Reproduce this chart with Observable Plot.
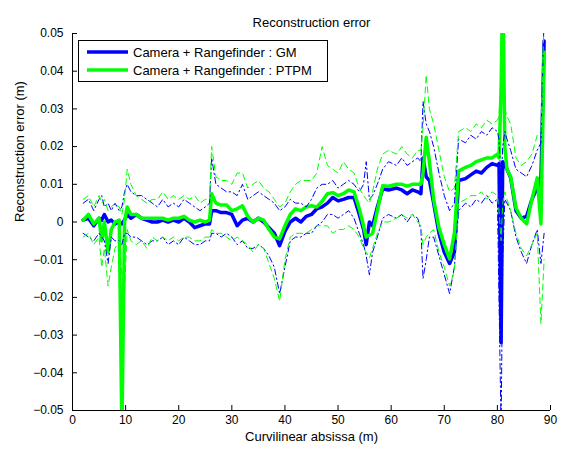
<!DOCTYPE html>
<html><head><meta charset="utf-8">
<script src="https://cdn.jsdelivr.net/npm/d3@7"></script>
<script src="https://cdn.jsdelivr.net/npm/@observablehq/plot@0.6"></script>
<style>
body{margin:0;background:#fff;}
#wrap{position:relative;width:571px;height:449px;font-family:"Liberation Sans",Arial,Helvetica,sans-serif;}
#legend{position:absolute;left:78px;top:40px;width:250px;height:42px;border:1px solid #000;background:#fff;box-sizing:border-box;}
#legend svg{display:block;font-family:"Liberation Sans",Arial,Helvetica,sans-serif;font-size:13px;}
</style></head><body><div id="wrap"></div>
<script>
const title = "Reconstruction error";
const xLabel = "Curvilinear absissa (m)";
const yLabel = "Reconstruction error (m)";
const seriesNames = ["Camera + Rangefinder : GM", "Camera + Rangefinder : PTPM"];
const xTicks = [0,10,20,30,40,50,60,70,80,90];
const yTicks = [-0.05,-0.04,-0.03,-0.02,-0.01,0,0.01,0.02,0.03,0.04,0.05];

const xs = [2,3,4,5,5.5,6,6.7,7.3,8,8.8,
9.3,9.8,10.3,11,12,13,14,15,16,17,
18,19,20,21,22,23,24,25,25.8,26.2,
27,28,29,30,31,32,33,34,35,36,
37,38,39,40,41,42,43,44,45,46,
47,48,49,50,51,52,53,54,54.8,55.3,
55.9,56.5,57.4,58.4,59.5,61,62,63,64,65,
65.6,66,66.6,67.2,68,69,70,71,71.9,72.7,
74,75,76,77,78,79,80,80.3,80.7,81,
81.4,81.8,82.5,83.5,84.5,85.5,86.5,87.5,88.2,88.8];

const gm = [0.0005,0.001,-0.001,0.001,0.0005,0.002,0,0.0005,-0.0005,0,
-0.0005,0.0005,0.002,0.001,0.002,0.001,0.0005,0,0,0.0005,
0,0.0005,0,0.001,0,-0.0015,-0.001,-0.0005,-0.0005,0.003,
0.003,0.0025,0.0025,0.002,-0.001,0.0005,0.001,0,0.001,0,
-0.0015,-0.003,-0.0063,-0.0025,0,0.001,0,0.0015,0.002,0.0035,
0.004,0.005,0.0065,0.0056,0.006,0.0065,0.0065,0.002,-0.002,-0.006,
0,-0.001,0.004,0.0088,0.0085,0.009,0.0085,0.0075,0.0085,0.008,
0.0075,0.017,0.012,0.011,0.005,-0.003,-0.008,-0.011,-0.008,0.011,
0.0115,0.0125,0.0135,0.013,0.0145,0.0155,0.015,0.0155,-0.032,0.016,
0.015,0.014,0.0117,0.003,0.001,0.0015,0.006,0.009,0.011,0.048];

const pt = [0.0005,0.002,-0.0005,0.001,-0.005,0,-0.008,-0.002,0,0.0005,
-0.056,0,0.004,0.002,0.002,0.001,0.001,0.001,0.001,0.001,
0.0005,0.001,0.001,0.0015,0.0005,0,0.0005,0,0.0005,0.0075,
0.005,0.0045,0.0045,0.003,0.0035,0.0043,0.0015,0,0.001,0.0005,
-0.002,-0.004,-0.0045,-0.001,0.002,0.0035,0.003,0.004,0.0043,0.004,
0.0055,0.0075,0.0078,0.007,0.0075,0.0085,0.008,0.0035,-0.001,-0.004,
-0.0035,-0.003,0.003,0.0096,0.0095,0.01,0.01,0.0095,0.01,0.01,
0.01,0.013,0.0225,0.016,0.006,-0.0015,-0.006,-0.0098,-0.003,0.0135,
0.0145,0.015,0.016,0.0165,0.017,0.017,0.018,0.017,0.035,0.065,
0.02,0.014,0.012,0.0037,0.001,-0.0005,0.006,0.0117,-0.0005,0.045];

const gmUp = [0.005,0.006,0.003,0.006,0.007,0.004,0.005,0.003,0.005,0.003,
0.004,0.008,0.01,0.008,0.007,0.007,0.006,0.005,0.004,0.006,
0.004,0.005,0.004,0.006,0.005,0.004,0.003,0.004,0.005,0.017,
0.01,0.009,0.008,0.008,0.007,0.01,0.006,0.007,0.008,0.007,
0.006,0.005,0.003,0.004,0.006,0.005,0.005,0.004,0.006,0.009,
0.01,0.01,0.011,0.009,0.01,0.011,0.01,0.008,0.01,0.016,
0.006,0.007,0.01,0.014,0.016,0.015,0.017,0.015,0.016,0.017,
0.016,0.032,0.026,0.024,0.02,0.013,0.007,0.003,0.005,0.022,
0.021,0.023,0.022,0.024,0.023,0.025,0.024,0.022,0.01,0.02,
0.024,0.022,0.019,0.014,0.013,0.012,0.015,0.019,0.021,0.055];

const gmLo = [-0.003,-0.004,-0.005,-0.003,-0.004,-0.005,-0.011,-0.004,-0.005,-0.005,
-0.006,-0.003,-0.003,-0.004,-0.004,-0.005,-0.006,-0.005,-0.005,-0.004,
-0.006,-0.005,-0.006,-0.004,-0.005,-0.006,-0.006,-0.005,-0.005,-0.003,
-0.003,-0.004,-0.003,-0.004,-0.006,-0.005,-0.007,-0.007,-0.006,-0.007,
-0.009,-0.012,-0.019,-0.012,-0.005,-0.004,-0.004,-0.003,-0.003,-0.001,
0,0.002,0.002,0.001,0.002,0.003,0.001,-0.003,-0.006,-0.009,
-0.014,-0.008,-0.004,0.001,0.002,0.001,0.002,0,0.002,0.001,
-0.002,-0.015,-0.01,-0.004,-0.004,-0.009,-0.014,-0.019,-0.012,0.003,
0.005,0.004,0.006,0.005,0.007,0.005,0.006,-0.02,-0.055,-0.01,
0.006,0.005,0.003,-0.004,-0.008,-0.011,-0.006,-0.002,-0.011,-0.003];

const ptUp = [0.006,0.007,0.004,0.007,0.005,0.006,0.003,0.004,0.005,0.004,
0.002,0.006,0.014,0.01,0.007,0.006,0.005,0.006,0.006,0.008,
0.006,0.007,0.006,0.007,0.006,0.007,0.005,0.006,0.006,0.02,
0.012,0.011,0.011,0.01,0.013,0.013,0.009,0.01,0.011,0.009,
0.008,0.006,0.004,0.005,0.008,0.01,0.011,0.011,0.011,0.013,
0.02,0.015,0.014,0.013,0.016,0.014,0.013,0.009,0.007,0.006,
0.005,0.008,0.014,0.018,0.019,0.018,0.02,0.018,0.017,0.019,
0.019,0.025,0.039,0.03,0.026,0.019,0.012,0.008,0.009,0.024,
0.025,0.024,0.026,0.025,0.027,0.026,0.027,0.028,0.04,0.06,
0.03,0.028,0.026,0.017,0.015,0.016,0.018,0.023,0.024,0.055];

const ptLo = [-0.004,-0.003,-0.006,-0.004,-0.012,-0.007,-0.017,-0.012,-0.007,-0.005,
-0.014,-0.018,-0.002,-0.005,-0.006,-0.005,-0.007,-0.004,-0.005,-0.004,
-0.005,-0.004,-0.005,-0.004,-0.004,-0.005,-0.005,-0.004,-0.004,-0.002,
-0.003,-0.003,-0.004,-0.005,-0.004,-0.005,-0.006,-0.008,-0.006,-0.007,
-0.011,-0.015,-0.021,-0.01,-0.004,-0.003,-0.003,-0.003,-0.002,-0.001,
-0.001,-0.001,-0.003,-0.002,-0.002,-0.001,-0.002,-0.004,-0.007,-0.008,
-0.0095,-0.007,-0.003,0,0,0.001,0.002,0.001,0.002,0,
-0.001,-0.006,-0.004,-0.003,-0.002,-0.008,-0.012,-0.017,-0.013,0.005,
0.006,0.007,0.007,0.008,0.006,0.008,0.007,0.003,-0.005,0.005,
0.008,0.006,0.003,-0.003,-0.007,-0.009,-0.006,-0.003,-0.027,-0.01];

const BLUE = "#0000ff", GREEN = "#00ff00";
const rows = xs.map((x, i) => ({x, gm: gm[i], pt: pt[i], gmUp: gmUp[i], gmLo: gmLo[i], ptUp: ptUp[i], ptLo: ptLo[i]}));
const fmt = d => d === 0 ? "0" : d.toFixed(2).replace("-", "\u2212");
const dashDot = "6,3,1.5,3", dashed = "6,4";

const chart = Plot.plot({
  width: 571, height: 449,
  marginLeft: 72, marginRight: 21, marginTop: 33, marginBottom: 39,
  style: {fontFamily: '"Liberation Sans", Arial, Helvetica, sans-serif', fontSize: "12px", color: "#000", background: "#fff", overflow: "visible"},
  x: {domain: [0, 90], label: null},
  y: {domain: [-0.05, 0.05], label: null},
  marks: [
    Plot.line(rows, {x: "x", y: "gm", stroke: BLUE, strokeWidth: 3.5, clip: true}),
    Plot.line(rows, {x: "x", y: "pt", stroke: GREEN, strokeWidth: 3.5, clip: true}),
    Plot.line(rows, {x: "x", y: "gmUp", stroke: BLUE, strokeWidth: 1, strokeDasharray: dashDot, clip: true}),
    Plot.line(rows, {x: "x", y: "gmLo", stroke: BLUE, strokeWidth: 1, strokeDasharray: dashDot, clip: true}),
    Plot.line(rows, {x: "x", y: "ptUp", stroke: GREEN, strokeWidth: 1, strokeDasharray: dashed, clip: true}),
    Plot.line(rows, {x: "x", y: "ptLo", stroke: GREEN, strokeWidth: 1, strokeDasharray: dashed, clip: true}),
    Plot.ruleX([0], {stroke: "#000"}),
    Plot.ruleY([-0.05], {stroke: "#000"}),
    Plot.ruleX(xTicks, {x: d => d, insetTop: 372, stroke: "#000"}),
    Plot.ruleY(yTicks, {y: d => d, insetRight: 473, stroke: "#000"}),
    Plot.axisX({ticks: xTicks, tickSize: 0, tickPadding: 5, label: null}),
    Plot.axisY({ticks: yTicks, tickSize: 0, tickPadding: 9, tickFormat: fmt, label: null}),
    Plot.text([xLabel], {text: d => d, frameAnchor: "bottom", dy: 30, fontSize: 13}),
    Plot.text([yLabel], {text: d => d, frameAnchor: "left", dx: -53, rotate: -90, fontSize: 13}),
    Plot.text([title], {text: d => d, frameAnchor: "top", dy: -16, fontSize: 13})
  ]
});
const wrap = document.getElementById("wrap");
wrap.appendChild(chart);

const legend = document.createElement("div");
legend.id = "legend";
const colors = [BLUE, GREEN];
const ns = "http://www.w3.org/2000/svg";
const svg = document.createElementNS(ns, "svg");
svg.setAttribute("width", 248); svg.setAttribute("height", 40);
seriesNames.forEach((name, i) => {
  const cy = 11 + i * 18;
  const ln = document.createElementNS(ns, "line");
  ln.setAttribute("x1", 8); ln.setAttribute("x2", 49);
  ln.setAttribute("y1", cy); ln.setAttribute("y2", cy);
  ln.setAttribute("stroke", colors[i]); ln.setAttribute("stroke-width", 3.5);
  svg.appendChild(ln);
  const t = document.createElementNS(ns, "text");
  t.setAttribute("x", 54); t.setAttribute("y", cy);
  t.setAttribute("dominant-baseline", "central");
  t.textContent = name;
  svg.appendChild(t);
});
legend.appendChild(svg);
wrap.appendChild(legend);
</script></body></html>
